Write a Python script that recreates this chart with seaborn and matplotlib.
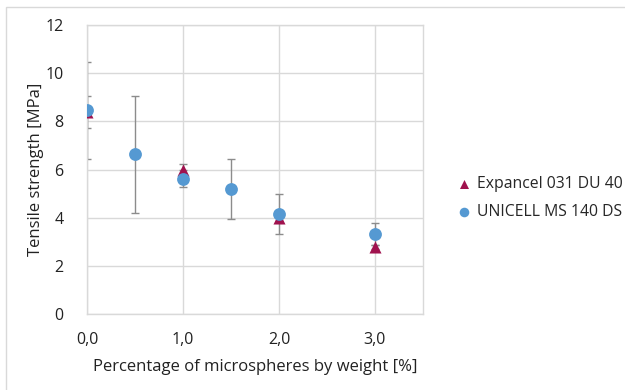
import numpy as np
import pandas as pd
import matplotlib
matplotlib.use("Agg")
import matplotlib.pyplot as plt
from matplotlib.patches import Rectangle
import seaborn as sns

# data
x_exp = [0.0, 1.0, 2.0, 3.0]
y_exp = [8.40, 6.00, 3.98, 2.78]
err_exp = [0.67, 0.22, 0.10, 0.10]

x_uni = [0.0, 0.5, 1.0, 1.5, 2.0, 3.0]
y_uni = [8.45, 6.64, 5.62, 5.19, 4.15, 3.32]
err_uni = [2.00, 2.43, 0.35, 1.25, 0.83, 0.45]

labels = ["Expancel 031 DU 40", "UNICELL MS 140 DS"]
x_ticks = [0.0, 1.0, 2.0, 3.0]
x_ticklabels = ["0,0", "1,0", "2,0", "3,0"]
y_ticks = [0, 2, 4, 6, 8, 10, 12]

sns.set_style("white")
plt.rcParams["font.family"] = ["Open Sans", "DejaVu Sans"]

grid_col = "#D9D9D9"
red = "#A0124E"
blue = "#5599D2"

df_exp = pd.DataFrame({"x": x_exp, "y": y_exp, "serie": labels[0]})
df_uni = pd.DataFrame({"x": x_uni, "y": y_uni, "serie": labels[1]})

W, H = 625, 390
fig = plt.figure(figsize=(6.25, 3.9), dpi=100)
ax = fig.add_axes([87 / W, 1 - 314 / H, (423 - 87) / W, (314 - 25) / H])

# barras de erro
ax.errorbar(x_exp, y_exp, yerr=err_exp, fmt="none", ecolor="#8C8C8C",
            elinewidth=1, capsize=3, capthick=1, zorder=2)
ax.errorbar(x_uni, y_uni, yerr=err_uni, fmt="none", ecolor="#8C8C8C",
            elinewidth=1, capsize=3, capthick=1, zorder=2)

sns.scatterplot(data=df_exp, x="x", y="y", marker="^", s=75, color=red,
                edgecolor=red, linewidth=0, ax=ax, label=labels[0], zorder=3)
sns.scatterplot(data=df_uni, x="x", y="y", marker="o", s=85, color=blue,
                edgecolor=blue, linewidth=0, ax=ax, label=labels[1], zorder=4)

ax.set_xlim(0, 3.5)
ax.set_ylim(0, 12)
ax.set_xticks(x_ticks)
ax.set_xticklabels(x_ticklabels)
ax.set_yticks(y_ticks)
ax.tick_params(axis="both", length=0, labelsize=11.5, colors="#222222")
ax.tick_params(axis="x", pad=13)
ax.tick_params(axis="y", pad=17)
ax.grid(True, color=grid_col, linewidth=1)
ax.set_axisbelow(True)
for s in ax.spines.values():
    s.set_color(grid_col)
    s.set_linewidth(1)

ax.set_xlabel("Percentage of microspheres by weight [%]", fontsize=12, color="#222222")
ax.set_ylabel("Tensile strength [MPa]", fontsize=12, color="#222222")
ax.xaxis.set_label_coords(0.5, -(367 - 314) / 289)
ax.xaxis.label.set_va("center")
ax.yaxis.set_label_coords((36 - 87) / 336, 0.5)
ax.yaxis.label.set_va("center")

ax.get_legend().remove()
h, l = ax.get_legend_handles_labels()
leg_kw = dict(loc="center left", frameon=False, handlelength=1.0,
              handletextpad=0.35, borderpad=0, borderaxespad=0,
              labelspacing=0.75, markerscale=0.75)
leg = fig.legend(h, l, bbox_to_anchor=(454 / W, 1 - 198 / H), fontsize=11.2, **leg_kw)

# ajustar legenda: texto de 477 a 622 px
fig.canvas.draw()
r = fig.canvas.get_renderer()
bb = leg.get_texts()[0].get_window_extent(r)
fs = 11.2 * 145 / bb.width
leg.remove()
leg = fig.legend(h, l, bbox_to_anchor=(454 / W, 1 - 198 / H), fontsize=fs, **leg_kw)
fig.canvas.draw()
bb = leg.get_texts()[0].get_window_extent(r)
dx = 477 - bb.x0
leg.set_bbox_to_anchor(((454 + dx) / W, 1 - 198 / H), transform=fig.transFigure)

# moldura do grafico
fig.patches.append(Rectangle((6 / W, -0.1), 1.2, 1 - 7 / H + 0.1,
                             transform=fig.transFigure, fill=False,
                             edgecolor=grid_col, linewidth=1))

fig.savefig("out.png", dpi=100)
